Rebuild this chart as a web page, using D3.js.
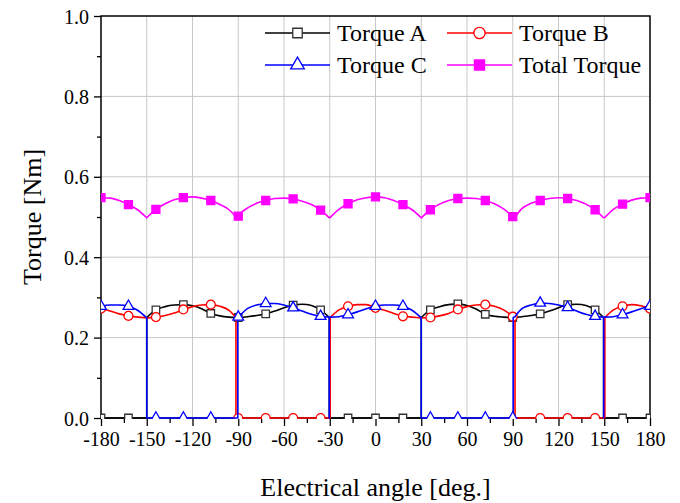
<!DOCTYPE html>
<html>
<head>
<meta charset="utf-8">
<script src="https://cdn.jsdelivr.net/npm/d3@7"></script>
<style>
  body { margin: 0; background: #fff; }
  svg { display: block; }
  text { font-family: "Liberation Serif", "Times New Roman", serif; fill: #000; }
</style>
</head>
<body>
<svg id="chart" width="680" height="503"></svg>
<script>
// Electrical angle samples [deg]; repeated angles mark commutation instants
const angles = [-180,-174,-168,-162,-156,-150,-150,-144,-138,-132,-126,-120,-114,-108,-102,-96,
  -91.5,-91.5,-90.3,-90.3,-90,-84,-78,-72,-66,-60,-54,-48,-42,-36,
  -30.3,-30.3,-30.3,-29.7,-29.7,-24,-18,-12,-6,0,6,12,18,24,30,30,
  36,42,48,54,60,66,72,78,84,90,90.3,90.3,91.5,91.5,96,102,108,114,120,126,132,138,144,
  149.6,149.6,149.6,150.4,150.4,156,162,168,174,180];

// Phase torques [Nm]
const torqueA = [0,0,0,0,0,0,0.250,0.269,0.277,0.281,0.282,0.279,0.272,0.260,0.254,0.251,
  0.250,0.250,0.250,0.250,0.250,0.252,0.255,0.259,0.266,0.274,0.281,0.283,0.280,0.269,
  0.250,0,0,0,0,0,0,0,0,0,0,0,0,0,0,0.250,
  0.269,0.277,0.282,0.284,0.280,0.271,0.258,0.253,0.251,0.250,0.250,0.250,0.250,0.250,0.252,0.255,0.259,0.266,0.274,0.282,0.283,0.280,0.269,
  0.250,0,0,0,0,0,0,0,0,0];
const torqueB = [0.272,0.266,0.259,0.254,0.251,0.249,0.249,0.251,0.255,0.261,0.270,0.277,0.281,0.282,0.278,0.268,
  0.250,0,0,0,0,0,0,0,0,0,0,0,0,0,
  0,0,0,0,0.250,0.269,0.278,0.282,0.282,0.274,0.268,0.260,0.253,0.251,0.249,0.249,
  0.250,0.254,0.260,0.270,0.277,0.281,0.282,0.278,0.269,0.252,0.251,0.251,0.249,0,0,0,0,0,0,0,0,0,0,
  0,0,0,0,0.250,0.269,0.278,0.282,0.279,0.272];
const torqueC = [0.278,0.281,0.281,0.278,0.268,0.249,0,0,0,0,0,0,0,0,0,0,
  0,0,0,0.250,0.251,0.272,0.281,0.285,0.285,0.281,0.274,0.266,0.258,0.253,
  0.251,0,0.251,0.251,0.251,0.252,0.257,0.264,0.272,0.278,0.281,0.281,0.278,0.268,0.249,0,
  0,0,0,0,0,0,0,0,0,0,0,0.250,0.252,0.252,0.272,0.281,0.286,0.285,0.281,0.275,0.266,0.258,0.253,
  0.251,0,0.251,0.251,0.251,0.252,0.257,0.264,0.272,0.278];
// Sum over the three phases [Nm]
const totalTorque = [0.548,0.547,0.541,0.531,0.518,0.498,0.498,0.519,0.533,0.543,0.548,0.550,0.547,0.541,0.531,0.518,
  0.500,0.500,0.500,0.500,0.502,0.522,0.534,0.541,0.546,0.547,0.545,0.539,0.531,0.517,
  0.498,0.498,0.498,0.499,0.499,0.519,0.533,0.543,0.548,0.550,0.548,0.541,0.531,0.518,0.498,0.498,
  0.518,0.532,0.541,0.546,0.547,0.546,0.541,0.533,0.520,0.501,0.500,0.500,0.500,0.500,0.521,0.534,0.541,0.546,0.548,0.546,0.541,0.532,0.518,
  0.498,0.498,0.498,0.499,0.499,0.519,0.532,0.542,0.547,0.548];

const xTicks = [-180,-150,-120,-90,-60,-30,0,30,60,90,120,150,180];
const xMinorTicks = [-165,-135,-105,-75,-45,-15,15,45,75,105,135,165];
const yTicks = [0.0,0.2,0.4,0.6,0.8,1.0];
const yMinorTicks = [0.1,0.3,0.5,0.7,0.9];
const seriesNames = ["Torque A","Torque B","Torque C","Total Torque"];
const markerStep = 18; // a symbol every 18 deg

const svg = d3.select("#chart");
const margin = { left: 101, right: 30, top: 16, bottom: 85 };
const W = 680, H = 503;
const x = d3.scaleLinear().domain([-180, 180]).range([margin.left, W - margin.right]);
const y = d3.scaleLinear().domain([0, 1]).range([H - margin.bottom, margin.top]);
const x0 = x.range()[0], x1 = x.range()[1], yb = y.range()[0], yt = y.range()[1];

svg.append("defs").append("clipPath").attr("id", "plotClip")
  .append("rect").attr("x", x0).attr("y", yt).attr("width", x1 - x0).attr("height", yb - yt + 1);

// grid
const grid = svg.append("g").attr("stroke", "#c8c8c8").attr("stroke-width", 1);
grid.selectAll("line.v").data(xTicks.slice(1, -1)).join("line")
  .attr("x1", d => x(d)).attr("x2", d => x(d)).attr("y1", yt).attr("y2", yb);
grid.selectAll("line.h").data(yTicks.slice(1, -1)).join("line")
  .attr("x1", x0).attr("x2", x1).attr("y1", d => y(d)).attr("y2", d => y(d));

// axes
const xAxis = d3.axisBottom(x).tickValues(xTicks).tickFormat(d => String(d)).tickSize(8).tickPadding(6);
const xAxisMinor = d3.axisBottom(x).tickValues(xMinorTicks).tickFormat("").tickSize(5);
const yAxis = d3.axisLeft(y).tickValues(yTicks).tickFormat(d => d.toFixed(1)).tickSize(7).tickPadding(5);
const yAxisMinor = d3.axisLeft(y).tickValues(yMinorTicks).tickFormat("").tickSize(4);

function styleAxis(g) {
  g.select(".domain").remove();
  g.selectAll(".tick line").attr("stroke", "#000").attr("stroke-width", 1.3);
  g.selectAll(".tick text").style("font-family", '"Liberation Serif", serif').style("font-size", "20px").attr("fill", "#000");
}
svg.append("g").attr("transform", `translate(0,${yb})`).call(xAxis).call(styleAxis);
svg.append("g").attr("transform", `translate(0,${yb})`).call(xAxisMinor).call(styleAxis);
svg.append("g").attr("transform", `translate(${x0},0)`).call(yAxis).call(styleAxis)
  .selectAll(".tick text").attr("dy", "0.35em");
svg.append("g").attr("transform", `translate(${x0},0)`).call(yAxisMinor).call(styleAxis);

// frame
svg.append("rect").attr("x", x0).attr("y", yt).attr("width", x1 - x0).attr("height", yb - yt)
  .attr("fill", "none").attr("stroke", "#000").attr("stroke-width", 1.5);

// series
const series = [
  { name: seriesNames[0], values: torqueA, color: "#000000", symbol: d3.symbolSquare, size: 56, fill: "#fff", stroke: "#333" },
  { name: seriesNames[1], values: torqueB, color: "#ff0000", symbol: d3.symbolCircle, size: 62, fill: "#fff", stroke: "#ff0000" },
  { name: seriesNames[2], values: torqueC, color: "#0000ff", symbol: d3.symbolTriangle, size: 50, fill: "#fff", stroke: "#0000ff" },
  { name: seriesNames[3], values: totalTorque, color: "#ff00ff", symbol: d3.symbolSquare, size: 64, fill: "#ff00ff", stroke: "#ff00ff" }
];

const curve = d3.line().curve(d3.curveMonotoneX);
function seriesPath(values) {
  const pts = angles.map((a, i) => [x(a), y(values[i])]);
  const segs = [];
  let cur = [pts[0]];
  for (let i = 1; i < pts.length; i++) {
    if (angles[i] === angles[i - 1]) { segs.push(cur); cur = [pts[i]]; }
    else cur.push(pts[i]);
  }
  segs.push(cur);
  return segs.map((s, k) => {
    const d = s.length > 1 ? curve(s) : `M${s[0][0]},${s[0][1]}`;
    return k === 0 ? d : "L" + d.slice(1);
  }).join("");
}

const plot = svg.append("g").attr("clip-path", "url(#plotClip)");
const markerIdx = angles.map((a, i) => i).filter(i => (angles[i] + 180) % markerStep === 0);

series.forEach(s => {
  const g = plot.append("g");
  g.append("path").attr("d", seriesPath(s.values))
    .attr("fill", "none").attr("stroke", s.color).attr("stroke-width", 1.6).attr("stroke-linejoin", "round");
  g.selectAll("path.m").data(markerIdx).join("path").attr("class", "m")
    .attr("transform", i => `translate(${x(angles[i])},${y(s.values[i])})`)
    .attr("d", d3.symbol().type(s.symbol).size(s.size))
    .attr("fill", s.fill).attr("stroke", s.stroke).attr("stroke-width", 1.3);
});

// legend
const legendPos = [
  { lx: 265, ly: 33 }, { lx: 447, ly: 33 },
  { lx: 265, ly: 65 }, { lx: 447, ly: 65 }
];
series.forEach((s, k) => {
  const p = legendPos[k];
  const g = svg.append("g").attr("transform", `translate(${p.lx},${p.ly})`);
  g.append("line").attr("x1", 0).attr("x2", 65).attr("y1", 0).attr("y2", 0)
    .attr("stroke", s.color).attr("stroke-width", 1.6);
  g.append("path").attr("transform", "translate(32.5,0)")
    .attr("d", d3.symbol().type(s.symbol).size(s.size * 1.6))
    .attr("fill", s.fill).attr("stroke", s.stroke).attr("stroke-width", 1.3);
  g.append("text").attr("x", 72).attr("y", 0).attr("dy", "0.35em")
    .style("font-size", "24px").text(s.name);
});

// axis titles
svg.append("text").attr("x", (x0 + x1) / 2).attr("y", 496).attr("text-anchor", "middle")
  .style("font-size", "26px").text("Electrical angle [deg.]");
svg.append("text").attr("transform", `translate(41,${(yt + yb) / 2}) rotate(-90)`).attr("text-anchor", "middle")
  .style("font-size", "26px").text("Torque [Nm]");
</script>
</body>
</html>
